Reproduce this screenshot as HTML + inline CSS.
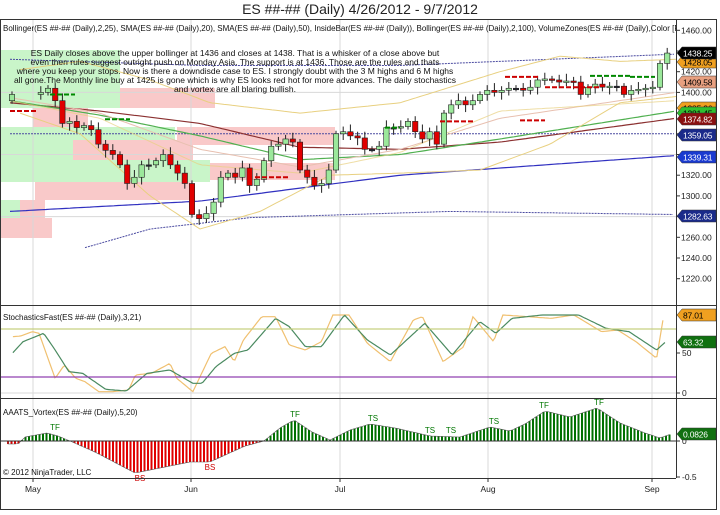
<!DOCTYPE html><html><head><meta charset="utf-8"><style>
body{margin:0;background:#fff;width:720px;height:510px;overflow:hidden;font-family:"Liberation Sans",sans-serif}
svg text{font-family:"Liberation Sans",sans-serif}
</style></head><body>
<svg id="s" width="720" height="510" xmlns="http://www.w3.org/2000/svg">
<defs><clipPath id="cp"><rect x="0" y="19" width="676" height="460"/></clipPath></defs>
<rect width="720" height="510" fill="#fff"/>
<text x="360" y="14" font-size="14" text-anchor="middle" fill="#222">ES ##-## (Daily)  4/26/2012 - 9/7/2012</text>
<g id="zones"></g>
<g id="grid" stroke="#d8d8d8" stroke-width="1"></g>
<g id="lines" fill="none"></g>
<g id="cand"></g>
<g id="osc"></g>
<g font-size="8.5" fill="#111" text-anchor="middle">
<text x="235" y="56">ES Daily closes above the upper bollinger at 1436 and closes at 1438. That is a whisker of a close above but</text>
<text x="235" y="65">even then rules suggest outright push on Monday Asia. The support is at 1436. Those are the rules and thats</text>
<text x="235" y="74">where you keep your stops. Now is there a downdisde case to ES. I strongly doubt with the 3 M highs and 6 M highs</text>
<text x="235" y="83">all gone.The Monthly line buy at 1425 is gone which is why ES looks red hot for more advances. The daily stochastics</text>
<text x="235" y="92">and vortex are all blaring bullish.</text>
</g>
<g clip-path="url(#cp)"><text x="3" y="31" font-size="8" fill="#111">Bollinger(ES ##-## (Daily),2,25), SMA(ES ##-## (Daily),20), SMA(ES ##-## (Daily),50), InsideBar(ES ##-## (Daily)), Bollinger(ES ##-## (Daily),2,100), VolumeZones(ES ##-## (Daily),Color [Red],Color [Lime])</text></g>
<text x="3" y="320" font-size="8" fill="#111">StochasticsFast(ES ##-## (Daily),3,21)</text>
<text x="3" y="415" font-size="8" fill="#111">AAATS_Vortex(ES ##-## (Daily),5,20)</text>
<text x="3" y="475" font-size="8" fill="#111">© 2012 NinjaTrader, LLC</text>
<g id="frame" fill="none" stroke="#333" stroke-width="1">
<rect x="0.5" y="19.5" width="716" height="490"/>
<line x1="0" y1="305.5" x2="717" y2="305.5"/>
<line x1="0" y1="398.5" x2="717" y2="398.5"/>
<line x1="0" y1="478.5" x2="676" y2="478.5"/>
<line x1="676.5" y1="19" x2="676.5" y2="478"/>
</g>
<g id="axis" font-size="8.5" fill="#222"></g>
</svg>
<script>
const NS="http://www.w3.org/2000/svg";
function el(p,t,a,txt){const e=document.createElementNS(NS,t);for(const k in a)e.setAttribute(k,a[k]);if(txt!=null)e.textContent=txt;document.getElementById(p).appendChild(e);return e;}
const Y=p=>71.7+(1420-p)*1.035;
[[0,50,120,58,'#c9f5c9'],[120,88,95,20,'#f9c9c9'],[33,108,55,19,'#f9c9c9'],[0,127,175,33,'#c9f5c9'],[73,140,120,22,'#f9c9c9'],[177,127,158,18,'#f9c9c9'],[0,160,210,22,'#c9f5c9'],[210,163,125,17,'#f9c9c9'],[35,182,155,18,'#f9c9c9'],[0,200,45,18,'#c9f5c9'],[20,200,25,18,'#f9c9c9'],[0,218,52,20,'#f9c9c9']].forEach(r=>el('zones','rect',{x:r[0],y:r[1],width:r[2],height:r[3],fill:r[4]}));
[33,191,340,488,652].forEach(x=>{el('grid','line',{x1:x,y1:20,x2:x,y2:478});});
[1400,1340,1280].forEach(p=>el('grid','line',{x1:0,y1:Y(p),x2:676,y2:Y(p)}));
[393].forEach(y=>el('grid','line',{x1:0,y1:y,x2:676,y2:y}));
for(let p=1220;p<=1460;p+=20){const y=Y(p);el('axis','line',{x1:676,y1:y,x2:680,y2:y,stroke:'#333'});el('axis','text',{x:681,y:y+3},p.toFixed(2));}
[['50',353],['0',393]].forEach(a=>{el('axis','line',{x1:676,y1:a[1],x2:680,y2:a[1],stroke:'#333'});el('axis','text',{x:682,y:a[1]+3},a[0]);});
[['0',441],['-0.5',477]].forEach(a=>{el('axis','line',{x1:676,y1:a[1],x2:680,y2:a[1],stroke:'#333'});el('axis','text',{x:682,y:a[1]+3},a[0]);});
[['May',33],['Jun',191],['Jul',340],['Aug',488],['Sep',652]].forEach(m=>{el('axis','line',{x1:m[1],y1:478,x2:m[1],y2:482,stroke:'#333'});el('axis','text',{x:m[1],y:492,'text-anchor':'middle'},m[0]);});
function interp(pts,x){for(let i=0;i<pts.length-1;i++){if(x>=pts[i][0]&&x<=pts[i+1][0]){const t=(x-pts[i][0])/(pts[i+1][0]-pts[i][0]);return pts[i][1]+t*(pts[i+1][1]-pts[i][1]);}}return x<pts[0][0]?pts[0][1]:pts[pts.length-1][1];}
function poly(pts,f,step,attrs){let d='';for(let x=pts[0][0];x<=pts[pts.length-1][0];x+=step){d+=(d?'L':'M')+x.toFixed(1)+','+f(interp(pts,x)).toFixed(1);}attrs.d=d;el('lines','path',attrs);}
const id=v=>v;
poly([[10,1432],[200,1426],[400,1426],[676,1437]],Y,4,{stroke:'#4a4aa0','stroke-dasharray':'2,1'});
poly([[10,1360],[676,1360]],Y,4,{stroke:'#4a4aa0','stroke-dasharray':'2,1'});
poly([[85,1250],[150,1268],[250,1279],[450,1285],[676,1282]],Y,4,{stroke:'#4a4aa0','stroke-dasharray':'2,1'});
poly([[10,1285],[200,1295],[400,1320],[676,1339]],Y,4,{stroke:'#3030c0','stroke-width':1.2});
poly([[10,1390],[100,1382],[200,1370],[300,1347],[400,1345],[500,1352],[676,1375]],Y,4,{stroke:'#8b3030','stroke-width':1.2});
poly([[10,1392],[100,1378],[200,1358],[300,1335],[400,1340],[500,1355],[676,1382]],Y,4,{stroke:'#50b050','stroke-width':1.2});
poly([[10,1395],[100,1380],[200,1345],[300,1328],[400,1345],[500,1375],[676,1400]],Y,4,{stroke:'#e8c0b0','stroke-width':1});
poly([[20,1422],[80,1430],[150,1412],[210,1390],[300,1380],[400,1390],[500,1420],[560,1435],[620,1430],[676,1432]],Y,4,{stroke:'#e8d080','stroke-width':1});
poly([[20,1380],[80,1360],[150,1300],[200,1268],[260,1285],[330,1320],[400,1322],[480,1325],[550,1350],[620,1390],[676,1396]],Y,4,{stroke:'#e8d080','stroke-width':1});
poly([[10,1392],[100,1375],[200,1330],[300,1322],[400,1342],[500,1382],[676,1392]],Y,4,{stroke:'#e8d080','stroke-width':1,opacity:.7});
const kp=[[0,1398],[4,1400],[5,1404],[6,1392],[7,1370],[8,1372],[9,1366],[10,1368],[11,1364],[12,1350],[13,1344],[14,1340],[15,1330],[16,1312],[17,1318],[18,1330],[19,1330],[20,1334],[21,1340],[22,1330],[23,1322],[24,1312],[25,1282],[26,1278],[27,1283],[28,1294],[29,1318],[30,1322],[31,1318],[32,1327],[33,1310],[34,1316],[35,1334],[36,1348],[37,1350],[38,1355],[39,1352],[40,1325],[41,1318],[42,1310],[43,1312],[44,1325],[45,1360],[46,1362],[47,1358],[48,1356],[49,1345],[50,1345],[51,1348],[52,1366],[53,1366],[54,1367],[55,1372],[56,1362],[57,1355],[58,1362],[59,1350],[60,1380],[61,1388],[62,1392],[63,1388],[64,1392],[65,1398],[66,1402],[67,1400],[68,1402],[69,1404],[70,1404],[71,1402],[72,1405],[73,1412],[74,1413],[75,1412],[76,1410],[77,1411],[78,1410],[79,1398],[80,1405],[81,1408],[82,1405],[83,1406],[84,1406],[85,1398],[86,1402],[87,1403],[88,1404],[89,1405],[90,1428],[91,1438]];
let prev=1392;
kp.forEach(k=>{const x=12+k[0]*7.2,c=k[1],o=prev;prev=c;const up=c>=o;const hi=Math.max(o,c)+3+((k[0]*7)%5),lo=Math.min(o,c)-3-((k[0]*3)%5);
el('cand','line',{x1:x,y1:Y(hi),x2:x,y2:Y(lo),stroke:'#222','stroke-width':1});
let t=Y(Math.max(o,c)),h=Math.max(1.5,Math.abs(Y(o)-Y(c)));
el('cand','rect',{x:x-2.7,y:t,width:5.4,height:h,fill:Math.abs(o-c)<1?'#223':(up?'#9be89b':'#e00000'),stroke:'#222','stroke-width':0.6});});
[[10,38,1382,'#c00'],[50,75,1398,'#080'],[105,130,1374,'#080'],[255,290,1318,'#c00'],[385,400,1366,'#080'],[440,475,1372,'#c00'],[505,540,1415,'#c00'],[545,600,1405,'#c00'],[590,630,1416,'#080'],[630,655,1415,'#080'],[520,545,1373,'#c00']].forEach(d=>el('cand','line',{x1:d[0],y1:Y(d[2]),x2:d[1],y2:Y(d[2]),stroke:d[3],'stroke-width':2,'stroke-dasharray':'5,2'}));
el('osc','line',{x1:0,y1:329,x2:676,y2:329,stroke:'#c8d080','stroke-width':1.2});
el('osc','line',{x1:0,y1:377,x2:676,y2:377,stroke:'#9040b0','stroke-width':1.2});
const sg=[[28,158],[50,125],[95,100],[120,150],[150,215],[180,220],[230,268],[275,273],[320,220],[370,210],[420,250],[440,250],[470,200],[510,160],[540,150],[600,55],[630,80],[665,140],[700,140],[750,45],[800,120],[850,165],[925,70],[985,165],[1045,65],[1080,100],[1115,55],[1180,45],[1260,45],[1320,85],[1370,95],[1430,150],[1450,125]].map(p=>[p[0]/2.178,300+p[1]/3]);
const sy=[[28,110],[45,108],[70,95],[85,100],[120,235],[140,195],[165,235],[185,245],[215,275],[245,275],[280,270],[295,225],[330,220],[370,190],[385,235],[420,275],[460,160],[490,140],[510,185],[530,120],[570,50],[600,50],[630,135],[665,150],[700,125],[725,45],[760,45],[800,130],[850,185],[900,60],[920,50],[965,185],[1010,140],[1030,50],[1075,125],[1095,45],[1150,50],[1200,55],[1250,45],[1310,95],[1345,90],[1385,125],[1430,175],[1445,50]].map(p=>[p[0]/2.178,300+p[1]/3]);
poly(sy,id,2,{stroke:'#f0c070','stroke-width':1.2});
poly(sg,id,2,{stroke:'#4a8a60','stroke-width':1.2});
const vx=[[8,444],[18,444],[25,437],[47,433],[58,436],[70,441],[95,452],[135,473],[160,468],[190,462],[210,462],[245,446],[264,441],[280,428],[294,420],[312,432],[330,440],[350,430],[370,424],[395,428],[430,436],[460,437],[490,427],[510,431],[525,424],[545,411],[570,417],[597,408],[620,423],[645,433],[660,438],[671,434]];
let vd='M8,441';
for(let x=8;x<=671;x+=3.5){const v=interp(vx,x);vd+='L'+x.toFixed(1)+','+v.toFixed(1);const neg=v>441;el('osc','line',{x1:x,y1:441,x2:x,y2:v,stroke:neg?'#e00000':'#007000','stroke-width':2});}
el('osc','path',{d:vd,fill:'none',stroke:'#555','stroke-width':0.6});
el('osc','line',{x1:0,y1:441,x2:676,y2:441,stroke:'#333','stroke-width':1});
[['TF',55,430,'#070'],['TF',295,417,'#070'],['TS',373,421,'#070'],['TS',430,433,'#070'],['TS',451,433,'#070'],['TS',494,424,'#070'],['TF',544,408,'#070'],['TF',599,405,'#070'],['BS',210,470,'#c00'],['BS',140,481,'#c00']].forEach(t=>el('osc','text',{x:t[1],y:t[2],'font-size':8,fill:t[3],'text-anchor':'middle'},t[0]));
function tag(y,txt,bg,fg){el('axis','path',{d:`M677,${y} L682,${y-6} L716,${y-6} L716,${y+6} L682,${y+6} Z`,fill:bg,stroke:'#333','stroke-width':0.5});el('axis','text',{x:683,y:y+3.5,fill:fg,'font-size':8.5,'letter-spacing':'-0.2'},txt);}
tag(216,'1282.63','#1a2a8a','#fff');tag(157,'1339.31','#1a3ad0','#fff');tag(135,'1359.05','#1a2a8a','#fff');
tag(108,'1385.36','#f0a020','#000');tag(113,'1381.45','#30c030','#000');tag(119,'1374.82','#8a1010','#fff');
tag(82,'1409.58','#e8a080','#000');tag(62,'1428.05','#f0a020','#000');tag(53,'1438.25','#000','#fff');
tag(315,'87.01','#f0a020','#000');tag(342,'63.32','#107010','#fff');tag(434,'0.0826','#107010','#fff');
</script>
</body></html>
